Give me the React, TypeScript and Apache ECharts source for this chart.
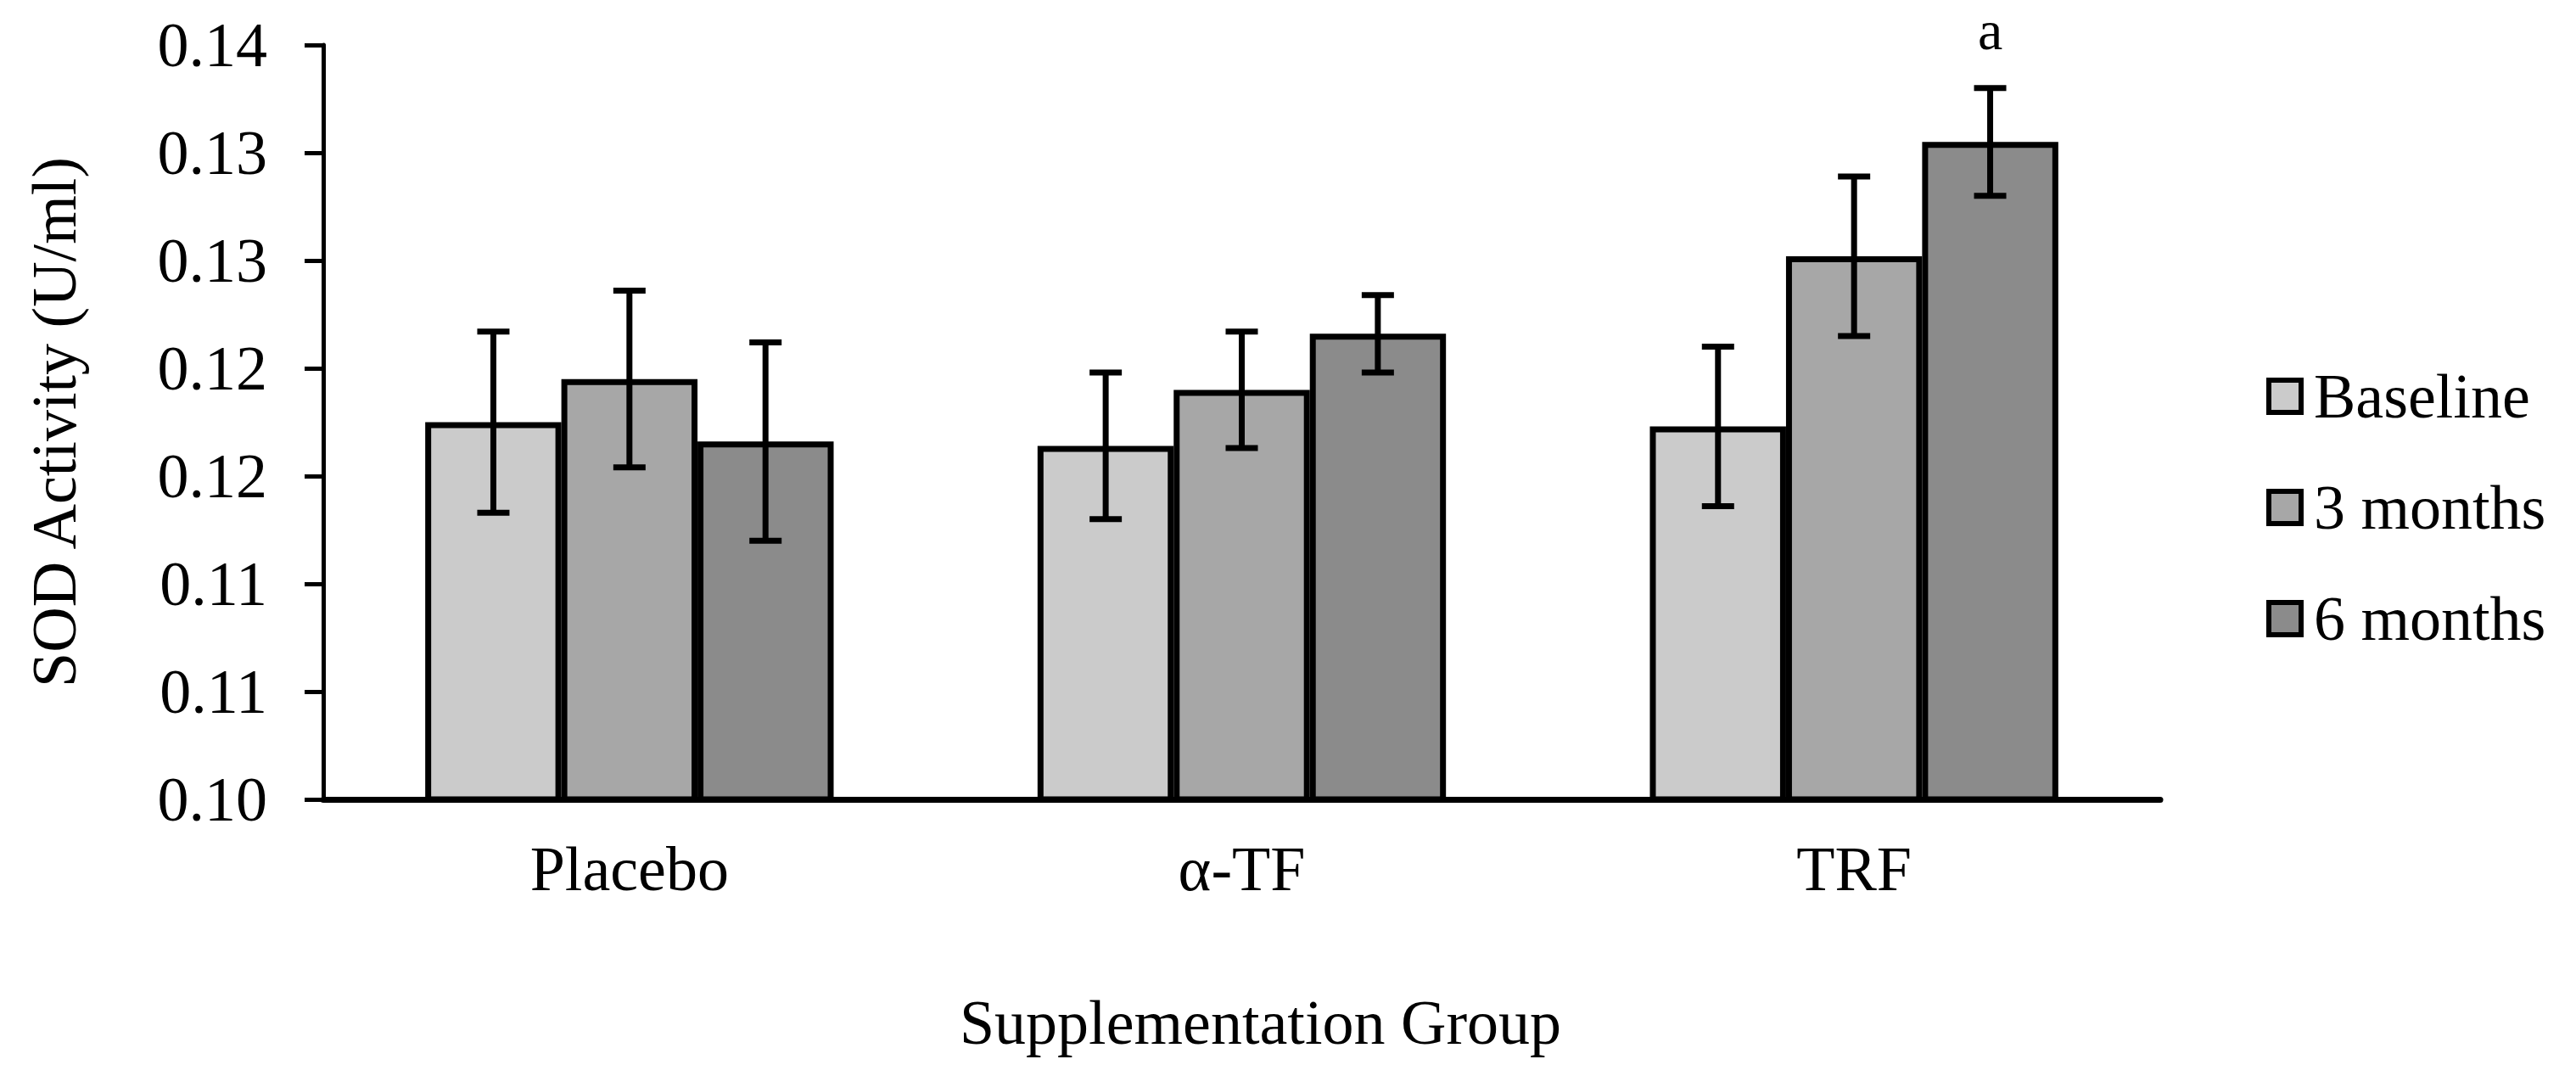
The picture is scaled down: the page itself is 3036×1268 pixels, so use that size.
import React, { useEffect, useRef } from "react";
import * as echarts from "echarts";

const categories = ["Placebo", "α-TF", "TRF"];
const seriesNames = ["Baseline", "3 months", "6 months"];
const baselineValues = [0.1175, 0.1164, 0.1173];
const month3Values = [0.1195, 0.119, 0.1252];
const month6Values = [0.1166, 0.1216, 0.1305];
const baselineErrors = [0.0042, 0.0034, 0.0037];
const month3Errors = [0.0041, 0.0027, 0.0037];
const month6Errors = [0.0046, 0.0018, 0.0025];
const baselineSig = ["", "", ""];
const month3Sig = ["", "", ""];
const month6Sig = ["", "", "a"];
const yTickLabels = ["0.10", "0.11", "0.11", "0.12", "0.12", "0.13", "0.13", "0.14"];
const colors = ["#cbcbcb", "#a7a7a7", "#8b8b8b"];

const FONT = "Liberation Serif";

export default function App() {
  const ref = useRef<HTMLDivElement>(null);
  useEffect(() => {
    if (!ref.current) return;
    const chart = echarts.init(ref.current, null, { renderer: "svg" });
    const values = [baselineValues, month3Values, month6Values];
    const errors = [baselineErrors, month3Errors, month6Errors];
    const sigs = [baselineSig, month3Sig, month6Sig];
    const gapRatio = 1 / 3;

    const barSeries = seriesNames.map((name, i) => ({
      name,
      type: "bar",
      data: values[i],
      barGap: "0%",
      barCategoryGap: "33.3%",
      itemStyle: { color: colors[i], borderColor: "#000", borderWidth: 7 },
      z: 2,
    }));

    const errSeries = seriesNames.map((name, i) => ({
      name: "err-" + name,
      type: "custom",
      z: 5,
      data: values[i].map((v, k) => [k, v, errors[i][k]]),
      renderItem: (params: any, api: any) => {
        const k = api.value(0);
        const mean = api.value(1);
        const err = api.value(2);
        const catW = api.size([1, 0])[0];
        const barW = (catW * (1 - gapRatio)) / 3;
        const c = api.coord([k, mean]);
        const x = c[0] + (i - 1) * barW;
        const yTop = api.coord([k, mean + err])[1];
        const yBot = api.coord([k, mean - err])[1];
        const capHalf = 19;
        const style = { stroke: "#000", lineWidth: 7 };
        const children: any[] = [
          { type: "line", shape: { x1: x, y1: yTop, x2: x, y2: yBot }, style },
          { type: "line", shape: { x1: x - capHalf, y1: yTop, x2: x + capHalf, y2: yTop }, style },
          { type: "line", shape: { x1: x - capHalf, y1: yBot, x2: x + capHalf, y2: yBot }, style },
        ];
        const sig = sigs[i][params.dataIndex];
        if (sig) {
          children.push({
            type: "text",
            style: {
              text: sig,
              x,
              y: Math.max(2, yTop - 104),
              align: "center",
              verticalAlign: "top",
              fontFamily: FONT,
              fontSize: 66,
              fill: "#000",
            },
          });
        }
        return { type: "group", children };
      },
    }));

    chart.setOption({
      animation: false,
      backgroundColor: "#fff",
      textStyle: { fontFamily: FONT, color: "#000" },
      grid: { left: 381, right: 490, top: 53, bottom: 326, containLabel: false },
      legend: {
        data: seriesNames,
        orient: "vertical",
        left: 2671,
        top: 430,
        padding: 0,
        itemWidth: 38,
        itemHeight: 38,
        itemGap: 57,
        icon: "rect",
        itemStyle: { borderColor: "#000", borderWidth: 6 },
        textStyle: { fontFamily: FONT, fontSize: 74, color: "#000", padding: [0, 0, 0, 10] },
      },
      xAxis: {
        type: "category",
        data: categories,
        name: "Supplementation Group",
        nameLocation: "middle",
        nameGap: 226,
        nameTextStyle: { fontFamily: FONT, fontSize: 74, color: "#000", padding: [0, 0, 0, 44] },
        axisLine: { lineStyle: { color: "#000", width: 7 } },
        axisTick: { show: false },
        axisLabel: { fontFamily: FONT, fontSize: 74, color: "#000", margin: 45 },
      },
      yAxis: {
        type: "value",
        min: 0.1,
        max: 0.135,
        interval: 0.005,
        name: "SOD Activity (U/ml)",
        nameLocation: "middle",
        nameRotate: 90,
        nameGap: 280,
        nameTextStyle: { fontFamily: FONT, fontSize: 74, color: "#000" },
        axisLine: { show: true, lineStyle: { color: "#000", width: 5 } },
        axisTick: { show: true, length: 22, lineStyle: { color: "#000", width: 5 } },
        splitLine: { show: false },
        axisLabel: {
          fontFamily: FONT,
          fontSize: 74,
          color: "#000",
          margin: 66,
          formatter: (_v: number, idx: number) => yTickLabels[idx] ?? "",
        },
      },
      series: [...barSeries, ...errSeries],
    });
    return () => chart.dispose();
  }, []);
  return (
    <div
      ref={ref}
      style={{ position: "fixed", left: 0, top: 0, width: 3036, height: 1268 }}
    />
  );
}
